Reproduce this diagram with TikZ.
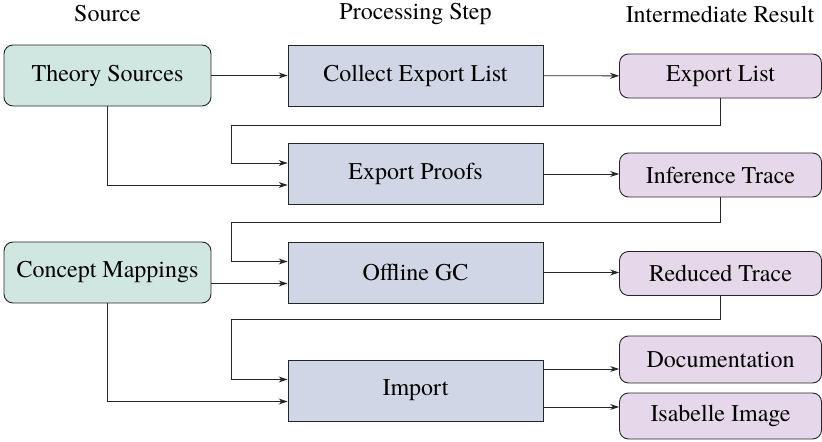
\documentclass[tikz,border=0pt]{standalone}
\usepackage{fontspec}
\setmainfont{texgyretermes}[Extension=.otf, UprightFont=*-regular]
\usetikzlibrary{arrows.meta,calc}
\definecolor{srcfill}{RGB}{208,230,224}
\definecolor{stepfill}{RGB}{208,214,230}
\definecolor{resfill}{RGB}{230,216,234}
\tikzset{
  base/.style={draw=black!85, line width=0.45pt, inner sep=0pt, align=center,
    font=\fontsize{12}{14}\selectfont},
  srcbox/.style={base, fill=srcfill, rounded corners=4.5pt, minimum width=103.5pt, minimum height=30.5pt},
  stepbox/.style={base, fill=stepfill, minimum width=127.5pt, minimum height=30.5pt},
  resbox/.style={base, fill=resfill, rounded corners=4.5pt, minimum width=101pt, minimum height=22pt},
  head/.style={font=\fontsize{12}{14}\selectfont, inner sep=0pt},
  arr/.style={-{Stealth[length=4.5pt,width=3pt]}, line width=0.45pt, draw=black!85},
}
\begin{document}
\begin{tikzpicture}[x=0.5pt,y=-0.5pt]
\useasboundingbox (0,0) rectangle (822,442);

% column headings
\node[head] (h1) at (107.5,14) {Source};
\node[head] (h2) at (415.5,14) {Processing Step};
\node[head] (h3) at (720,14) {Intermediate Result};

% sources
\node[srcbox] (ts) at (107.5,75.5) {Theory Sources};
\node[srcbox] (cm) at (107.5,272.5) {Concept Mappings};

% processing steps
\node[stepbox] (cel) at (415.5,75.5) {Collect Export List};
\node[stepbox] (ep) at (415.5,174) {Export Proofs};
\node[stepbox] (gc) at (415.5,272.5) {Offline GC};
\node[stepbox] (imp) at (415.5,390.5) {Import};

% intermediate results
\node[resbox] (el) at (720.5,76) {Export List};
\node[resbox] (it) at (720.5,175) {Inference Trace};
\node[resbox] (rt) at (720.5,273.5) {Reduced Trace};
\node[resbox, minimum height=23.5pt] (doc) at (720.5,359.5) {Documentation};
\node[resbox, minimum height=23pt] (isa) at (720.5,416) {Isabelle Image};

% straight flows
\draw[arr] (ts) -- (cel);
\draw[arr] (cel) -- (el);
\draw[arr] (ep.east) -- (ep.east -| it.west);
\draw[arr] (gc.east) -- (gc.east -| rt.west);
\draw[arr] ($(cm.east)+(0,11)$) -- ($(gc.west)+(0,11)$);

% source inputs from below
\draw[arr] (ts.south) |- ($(ep.west)+(0,11)$);
\draw[arr] (cm.south) |- ($(imp.west)+(0,11)$);

% feedback of each result into the next step
\draw[arr] (el.south) -- ++(0,27) -| ($(ep.west)+(-56,-11)$) -- ($(ep.west)+(0,-11)$);
\draw[arr] (it.south) -- ++(0,25) -| ($(gc.west)+(-56,-11)$) -- ($(gc.west)+(0,-11)$);
\draw[arr] (rt.south) -- ++(0,24) -| ($(imp.west)+(-56,-11)$) -- ($(imp.west)+(0,-11)$);

% outputs of the import
\coordinate (o1) at ($(imp.east)+(0,-21.5)$);
\coordinate (o2) at ($(imp.east)+(0,16.5)$);
\draw[arr] (o1) -- (o1 -| doc.west);
\draw[arr] (o2) -- (o2 -| isa.west);
\end{tikzpicture}
\end{document}
